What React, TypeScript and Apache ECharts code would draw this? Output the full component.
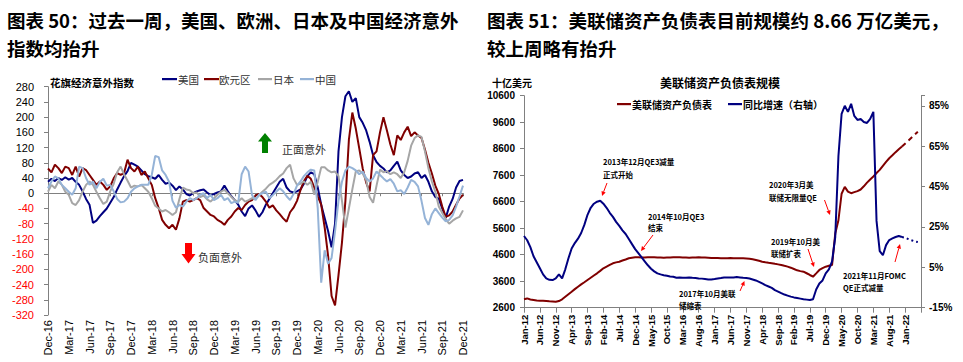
import React, { useEffect, useRef } from 'react';
import * as echarts from 'echarts';

// ---------- Left chart: Citi Economic Surprise Index (half-monthly readings, Dec-16 .. Dec-21)
const leftTickLabels = ['Dec-16', 'Mar-17', 'Jun-17', 'Sep-17', 'Dec-17', 'Mar-18', 'Jun-18', 'Sep-18', 'Dec-18', 'Mar-19', 'Jun-19', 'Sep-19', 'Dec-19', 'Mar-20', 'Jun-20', 'Sep-20', 'Dec-20', 'Mar-21', 'Jun-21', 'Sep-21', 'Dec-21'];

const usSurprise = [
  30, 38, 32, 40, 35, 42, 36, 40, 30, 22,
  5, -15, -30, -78, -72, -60, -50, -40, -25, -10,
  10, 28, 45, 58, 80, 75, 70, 60, 50, 45,
  42, 38, 48, 35, 25, 28, 20, 8, 18, 10,
  -2, -6, 0, 5, 8, 10, 2, -5, -2, 2,
  5, 20, 5, -8, -18, -30, -48, -60, -40, -32,
  -45, -62, -50, -30, -15, 0, 15, 30, 38, 15,
  5, 2, 5, 10, 25, 45, 55, 50, 15, -30,
  -65, -100, -142, -80, 110, 200, 255, 268, 240, 250,
  200, 185, 165, 135, 100, 82, 72, 65, 55, 60,
  72, 83, 60, 48, 40, 44, 52, 55, 40, 48,
  30, 5, -10, -14, -40, -65, -35, -15, 15, 32,
  35,
];

const euroSurprise = [
  65, 55, 75, 66, 53, 70, 66, 48, 70, 44,
  66, 61, 48, 35, 22, 31, 22, 9, 18, 39,
  53, 48, 53, 88, 66, 57, 70, 48, 57, 39,
  22, -13, -39, -70, -83, -92, -83, -96, -66, -22,
  -18, -22, -18, -13, -18, -39, -48, -57, -61, -70,
  -75, -83, -70, -61, -48, -39, -44, -31, -22, -18,
  -6, -2, -10, -22, -38, -32, -45, -55, -66, -75,
  -50, -38, -20, 8, 32, 46, 38, 15, -8, -30,
  -90, -165, -270, -295, -215, -130, -20, 140, 212, 170,
  118, 65, 28, 5, 100, 110, 160, 200, 165, 128,
  100, 152, 140, 160, 175, 150, 160, 152, 145, 115,
  80, 52, 20, -2, -35, -62, -58, -48, -30, -14,
  -4,
];

const japanSurprise = [
  4, 22, 13, 31, 22, 4, -4, -26, -31, -18,
  4, 22, 31, 22, 4, -13, -28, -22, 5, 25,
  55, 70, 50, 33, 15, 20, 18, 22, 13, 4,
  -13, -33, -40, -48, -44, -50, -57, -50, -15, 15,
  10, 8, 0, 2, -10, -6, -16, -22, -13, -4,
  4, 9, 0, -9, -18, -22, -13, -22, -18, -13,
  -15, -6, 4, 12, 22, 28, 35, 45, 52, 66,
  75, 39, 22, 25, 31, 22, 30, -4, 30, 68,
  68, 60, 55, 57, 45, -20, -90, -40, 10, 57,
  60, 52, 35, -10, -25, 20, 62, 55, 58, 50,
  55, 50, 40, 55, 85, 125, 145, 152, 148, 110,
  66, 31, 4, -35, -52, -68, -80, -72, -66, -62,
  -45,
];

const chinaSurprise = [
  13, 31, 44, 39, 22, 13, 4, -4, 13, 70,
  66, 40, 22, 31, 13, 30, 38, 20, 22, 5,
  -15, -24, -22, -13, 4, 13, 18, 22, 22, 22,
  48, 98, 95, 60, 48, 30, -20, -38, -31, -35,
  -22, -13, -18, -13, -4, 0, -13, -4, -18, -13,
  -4, -18, -13, -26, -22, -25, 50, 70, 57, -5,
  -18, -4, 0, 4, -13, -5, 4, 13, 5, -8,
  -18, -2, 20, 31, 45, 55, 62, 60, -40, -235,
  -150, -185, -170, -100, -20, 30, 60, 70, 66, 60,
  50, 57, 40, 31, 39, 57, 48, 39, 31, 37,
  25, 5, 8, -2, 15, 35, 30, 18, -20, -65,
  -83, -55, -40, -52, -64, -74, -70, -58, -35, -8,
  20,
];

// ---------- Right chart: Fed balance sheet (monthly, Jan-12 .. Jun-22)
const rightTickLabels = ['Jan-12', 'Jun-12', 'Nov-12', 'Apr-13', 'Sep-13', 'Feb-14', 'Jul-14', 'Dec-14', 'May-15', 'Oct-15', 'Mar-16', 'Aug-16', 'Jan-17', 'Jun-17', 'Nov-17', 'Apr-18', 'Sep-18', 'Feb-19', 'Jul-19', 'Dec-19', 'May-20', 'Oct-20', 'Mar-21', 'Aug-21', 'Jan-22'];
const RIGHT_MONTHS = 126;

// 十亿美元, Jan-12 .. Dec-21
const fedAssets = [
  2920, 2950, 2910, 2890, 2870, 2865, 2860, 2850, 2840, 2835,
  2826, 2850, 2917, 3015, 3110, 3204, 3300, 3393, 3480, 3560,
  3645, 3730, 3815, 3898, 3990, 4087, 4150, 4215, 4276, 4310,
  4336, 4380, 4420, 4464, 4485, 4502, 4500, 4490, 4495, 4500,
  4502, 4500, 4495, 4490, 4485, 4490, 4495, 4500, 4505, 4500,
  4495, 4490, 4485, 4490, 4495, 4500, 4495, 4490, 4485, 4480,
  4478, 4475, 4470, 4468, 4470, 4472, 4470, 4468, 4465, 4462,
  4455, 4445, 4427, 4400, 4370, 4336, 4315, 4295, 4276, 4255,
  4235, 4211, 4180, 4150, 4110, 4060, 4010, 3980, 3959, 3900,
  3834, 3770, 3896, 4023, 4090, 4147, 4180, 4211, 5400, 5900,
  6900, 7160, 6980, 6920, 6960, 7000, 7060, 7180, 7320, 7440,
  7550, 7680, 7800, 7950, 8100, 8240, 8350, 8470, 8580, 8680,
];
// projected (dashed) segment: month index -> value
const fedProjMonths = [119, 124];
const fedProjValues = [8680, 9240];

// 同比增速 (%), Jan-12 .. Dec-21
const fedYoY = [
  20.5, 18.4, 15, 10.5, 7.5, 4.5, 1.5, -0.5, -1.2, -1.3,
  -0.5, 1.5, -0.5, 4, 9.5, 14.3, 17, 19.2, 22, 26,
  31, 34.5, 36.5, 37.5, 38, 36.5, 34.5, 32, 30, 27.5,
  25.5, 23.3, 21.5, 19, 16.5, 14, 12, 10, 8, 6,
  4.3, 3, 2, 1.5, 1.1, 0.8, 0.5, 0.3, -0.2, 0,
  -0.2, -0.2, 0, -0.2, -0.3, -0.5, -0.6, -0.8, -1, -1,
  -0.8, -0.5, -0.3, 0, 0, 0, 0, 0.2, 0, -0.2,
  -0.3, -0.5, -1, -1.5, -2.2, -3, -3.8, -4.5, -5.2, -6.3,
  -7, -7.8, -8.5, -9, -9.5, -9.9, -10.2, -10.5, -10.8, -11,
  -11.2, -10.8, -6, -3, -1.5, 2, 4, 8, 20, 60,
  81, 85, 82, 86, 80, 78, 78.5, 77, 76.5, 78.5,
  82, 28, 13, 11, 16, 18.5, 19.3, 20, 20.5, 20,
];
// dotted tail, starting at month index 119
const fedYoYTailStart = 119;
const fedYoYTail = [20, 19.7, 19, 18.4, 17.8, 17.5];

// ---------- styling
const FONT = '"Liberation Sans", Arial, sans-serif';
const CJK = '"Noto Sans CJK SC", "Noto Sans", sans-serif';
const NAVY = '#000080';
const DARKRED = '#800000';
const GRAY = '#A6A6A6';
const LIGHTBLUE = '#95B3D7';
const AXIS = '#808080';

const leftCats = usSurprise.map((_, i) => (i % 6 === 0 ? leftTickLabels[i / 6] : 'h' + i));
const rightCats = Array.from({ length: RIGHT_MONTHS }, (_, j) =>
  j % 5 === 0 && rightTickLabels[j / 5] ? rightTickLabels[j / 5] : 'm' + j
);
const fedProjected = rightCats.map((_, j) => {
  const k = fedProjMonths.indexOf(j);
  return k >= 0 ? fedProjValues[k] : null;
});
const fedYoYDotted = rightCats.map((_, j) =>
  j >= fedYoYTailStart && j < fedYoYTailStart + fedYoYTail.length ? fedYoYTail[j - fedYoYTailStart] : null
);

type TxtOpt = { bold?: boolean; color?: string; align?: string; family?: string };
const txt = (text: string, x: number, y: number, size: number, o: TxtOpt = {}) => ({
  type: 'text',
  x,
  y,
  z: 100,
  silent: true,
  style: {
    text,
    fontSize: size,
    fontFamily: o.family || CJK,
    fontWeight: o.bold ? 'bold' : 'normal',
    fill: o.color || '#000',
    align: o.align || 'left',
    verticalAlign: 'middle',
  },
});

const legendLine = (x: number, y: number, w: number, color: string) => ({
  type: 'rect',
  z: 100,
  silent: true,
  shape: { x, y: y - 1, width: w, height: 2.2 },
  style: { fill: color },
});

const arrow = (x1: number, y1: number, x2: number, y2: number, color = '#FF0000') => {
  const dx = x2 - x1;
  const dy = y2 - y1;
  const len = Math.hypot(dx, dy);
  const ux = dx / len;
  const uy = dy / len;
  const hl = 4.5;
  const hw = 2.2;
  const bx = x2 - ux * hl;
  const by = y2 - uy * hl;
  return [
    { type: 'line', z: 100, silent: true, shape: { x1, y1, x2: bx, y2: by }, style: { stroke: color, lineWidth: 1 } },
    {
      type: 'polygon',
      z: 100,
      silent: true,
      shape: { points: [[x2, y2], [bx - uy * hw, by + ux * hw], [bx + uy * hw, by - ux * hw]] },
      style: { fill: color },
    },
  ];
};

const buildOption = () => {
  const lineSeries = (name: string, data: number[], color: string) => ({
    name,
    type: 'line',
    xAxisIndex: 0,
    yAxisIndex: 0,
    data,
    symbol: 'none',
    showSymbol: false,
    lineStyle: { color, width: 2 },
    itemStyle: { color },
  });

  const graphics: any[] = [
    // titles
    txt('图表 50：过去一周，美国、欧洲、日本及中国经济意外', 7, 20, 18.5, { bold: true }),
    txt('指数均抬升', 7, 48, 18.5, { bold: true }),
    txt('图表 51：美联储资产负债表目前规模约 8.66 万亿美元，', 487, 20, 18.5, { bold: true }),
    txt('较上周略有抬升', 487, 48, 18.5, { bold: true }),
    // left chart header + legend
    txt('花旗经济意外指数', 50, 82, 10.5, { bold: true }),
    legendLine(162, 79, 15, NAVY),
    txt('美国', 178, 79.5, 10.5, { color: '#333' }),
    legendLine(204, 79, 15, DARKRED),
    txt('欧元区', 219, 79.5, 10.5, { color: '#333' }),
    legendLine(258, 79, 14, GRAY),
    txt('日本', 273, 79.5, 10.5, { color: '#333' }),
    legendLine(300, 79, 14, LIGHTBLUE),
    txt('中国', 315, 79.5, 10.5, { color: '#333' }),
    // left annotations
    {
      type: 'polygon',
      z: 100,
      silent: true,
      shape: { points: [[265, 133], [272, 141.5], [268, 141.5], [268, 153], [262, 153], [262, 141.5], [258, 141.5]] },
      style: { fill: '#008000' },
    },
    txt('正面意外', 282, 149, 11, { color: '#333' }),
    {
      type: 'polygon',
      z: 100,
      silent: true,
      shape: { points: [[185, 243], [192, 243], [192, 254], [195.5, 254], [188.5, 263.5], [181.5, 254], [185, 254]] },
      style: { fill: '#FF0000' },
    },
    txt('负面意外', 198, 257, 11, { color: '#333' }),
    // right chart header + legend
    txt('十亿美元', 492, 82, 10, { bold: true }),
    txt('美联储资产负债表规模', 720, 82, 12, { bold: true, align: 'center' }),
    legendLine(617, 104, 14, DARKRED),
    txt('美联储资产负债表', 632, 104, 10, { bold: true }),
    legendLine(728, 104, 14, NAVY),
    txt('同比增速（右轴）', 743, 104, 10, { bold: true }),
    // right annotations
    txt('2013年12月QE3减量', 603, 161, 7.5, { bold: true }),
    txt('正式开始', 603, 174, 7.5, { bold: true }),
    ...arrow(607, 183, 602, 196),
    txt('2014年10月QE3', 648, 216, 7.5, { bold: true }),
    txt('结束', 648, 227, 7.5, { bold: true }),
    ...arrow(653, 235, 641, 251),
    txt('2017年10月美联', 679, 293, 7.5, { bold: true }),
    txt('储缩表', 679, 305, 7.5, { bold: true }),
    ...arrow(740, 291, 744.5, 281),
    txt('2019年10月美', 771, 241, 7.5, { bold: true }),
    txt('联储扩表', 771, 253, 7.5, { bold: true }),
    ...arrow(808, 249, 814, 267),
    txt('2020年3月美', 769, 184, 7.5, { bold: true }),
    txt('联储无限量QE', 769, 197, 7.5, { bold: true }),
    ...arrow(824.5, 200, 830, 215),
    txt('2021年11月FOMC', 843, 275, 7.5, { bold: true }),
    txt('QE正式减量', 843, 287, 7.5, { bold: true }),
    ...arrow(895, 262, 900, 244),
  ];

  return {
    animation: false,
    backgroundColor: '#ffffff',
    textStyle: { fontFamily: FONT },
    grid: [
      { left: 48, right: 500, top: 86.7, bottom: 47, containLabel: false },
      { left: 524, right: 42, top: 95.7, bottom: 54.3, containLabel: false },
    ],
    xAxis: [
      {
        type: 'category',
        gridIndex: 0,
        data: leftCats,
        boundaryGap: false,
        position: 'bottom',
        axisLine: { show: true, onZero: true, lineStyle: { color: AXIS, width: 1 } },
        axisTick: { show: true, interval: 5, length: 3, lineStyle: { color: AXIS } },
        axisLabel: { show: false },
        splitLine: { show: false },
      },
      {
        type: 'category',
        gridIndex: 0,
        data: leftCats,
        boundaryGap: false,
        position: 'bottom',
        axisLine: { show: false, onZero: false },
        axisTick: { show: false },
        axisLabel: { interval: 5, rotate: 90, fontSize: 11, color: '#000', fontFamily: FONT, margin: 5 },
        splitLine: { show: false },
      },
      {
        type: 'category',
        gridIndex: 1,
        data: rightCats,
        boundaryGap: false,
        position: 'bottom',
        axisLine: { show: true, onZero: false, lineStyle: { color: AXIS, width: 1 } },
        axisTick: { show: true, interval: 4, length: 5, lineStyle: { color: AXIS } },
        axisLabel: {
          interval: 4,
          rotate: 90,
          fontSize: 9.5,
          fontWeight: 'bold',
          color: '#000',
          fontFamily: FONT,
          margin: 7,
          formatter: (v: string) => (rightTickLabels.indexOf(v) >= 0 ? v : ''),
        },
        splitLine: { show: false },
      },
    ],
    yAxis: [
      {
        type: 'value',
        gridIndex: 0,
        min: -320,
        max: 280,
        interval: 40,
        position: 'left',
        axisLine: { show: true, lineStyle: { color: AXIS } },
        axisTick: { show: true, length: 4, lineStyle: { color: AXIS } },
        splitLine: { show: false },
        axisLabel: {
          fontSize: 11,
          fontFamily: FONT,
          margin: 14,
          formatter: (v: number) => String(v),
          color: (v: any) => (Number(v) < 0 ? '#FF0000' : '#000'),
        },
      },
      {
        type: 'value',
        gridIndex: 1,
        min: 2600,
        max: 10600,
        interval: 1000,
        position: 'left',
        axisLine: { show: true, lineStyle: { color: AXIS } },
        axisTick: { show: true, length: 4, lineStyle: { color: AXIS } },
        splitLine: { show: false },
        axisLabel: {
          fontSize: 10,
          fontWeight: 'bold',
          fontFamily: FONT,
          color: '#000',
          margin: 9,
          formatter: (v: number) => String(v),
        },
      },
      {
        type: 'value',
        gridIndex: 1,
        min: -15,
        max: 90,
        interval: 20,
        position: 'right',
        axisLine: { show: true, lineStyle: { color: AXIS } },
        axisTick: { show: true, length: 4, lineStyle: { color: AXIS } },
        splitLine: { show: false },
        axisLabel: {
          fontSize: 10,
          fontWeight: 'bold',
          fontFamily: FONT,
          color: '#000',
          margin: 8,
          formatter: (v: number) => (v > 85 ? '' : v + '%'),
        },
      },
    ],
    series: [
      lineSeries('美国', usSurprise, NAVY),
      lineSeries('欧元区', euroSurprise, DARKRED),
      lineSeries('日本', japanSurprise, GRAY),
      lineSeries('中国', chinaSurprise, LIGHTBLUE),
      {
        name: '美联储资产负债表',
        type: 'line',
        xAxisIndex: 2,
        yAxisIndex: 1,
        data: fedAssets,
        symbol: 'none',
        lineStyle: { color: DARKRED, width: 2 },
        itemStyle: { color: DARKRED },
      },
      {
        name: '美联储资产负债表（预测）',
        type: 'line',
        xAxisIndex: 2,
        yAxisIndex: 1,
        data: fedProjected,
        connectNulls: true,
        symbol: 'none',
        lineStyle: { color: DARKRED, width: 2, type: [5, 4] },
        itemStyle: { color: DARKRED },
      },
      {
        name: '同比增速（右轴）',
        type: 'line',
        xAxisIndex: 2,
        yAxisIndex: 2,
        data: fedYoY,
        symbol: 'none',
        lineStyle: { color: NAVY, width: 2 },
        itemStyle: { color: NAVY },
      },
      {
        name: '同比增速（右轴）尾',
        type: 'line',
        xAxisIndex: 2,
        yAxisIndex: 2,
        data: fedYoYDotted,
        symbol: 'none',
        lineStyle: { color: NAVY, width: 2, type: [2, 3] },
        itemStyle: { color: NAVY },
      },
    ],
    graphic: { elements: graphics },
  };
};

export default function App() {
  const ref = useRef<HTMLDivElement>(null);
  useEffect(() => {
    if (!ref.current) return;
    const chart = echarts.init(ref.current, null, { renderer: 'svg' });
    chart.setOption(buildOption() as any);
    return () => {
      chart.dispose();
    };
  }, []);
  return (
    <div
      ref={ref}
      style={{ position: 'absolute', left: 0, top: 0, width: 963, height: 362, background: '#fff' }}
    />
  );
}
